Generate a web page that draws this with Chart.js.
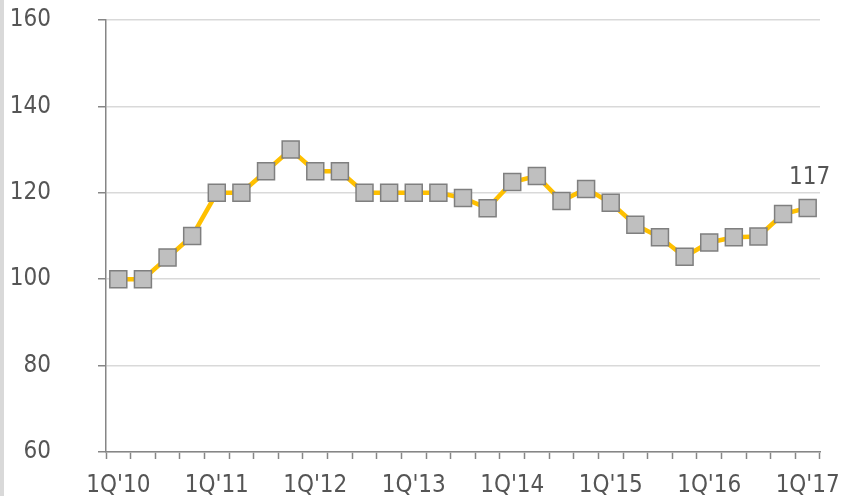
<!DOCTYPE html>
<html>
<head>
<meta charset="utf-8">
<script src="https://cdn.jsdelivr.net/npm/chart.js@4.4.1/dist/chart.umd.min.js"></script>
<style>
    html, body { margin: 0; padding: 0; background: #ffffff; }
    #wrap { position: relative; width: 842px; height: 496px; }
    #strip { position: absolute; left: 0; top: 0; width: 4px; height: 496px; background: #d9d9d9; }
</style>
</head>
<body>
<div id="wrap">
    <canvas id="chart" width="842" height="496"></canvas>
    <div id="strip"></div>
</div>
<script>
// Quarterly index, 1Q'10 = 100
const quarters = [
    "1Q'10", "2Q'10", "3Q'10", "4Q'10",
    "1Q'11", "2Q'11", "3Q'11", "4Q'11",
    "1Q'12", "2Q'12", "3Q'12", "4Q'12",
    "1Q'13", "2Q'13", "3Q'13", "4Q'13",
    "1Q'14", "2Q'14", "3Q'14", "4Q'14",
    "1Q'15", "2Q'15", "3Q'15", "4Q'15",
    "1Q'16", "2Q'16", "3Q'16", "4Q'16",
    "1Q'17"
];
const indexValues = [
    100, 100, 105, 110,
    120, 120, 125, 130,
    125, 125, 120, 120,
    120, 120, 118.8, 116.4,
    122.5, 123.9, 118.1, 120.9,
    117.7, 112.6, 109.7, 105.2,
    108.5, 109.7, 109.9, 115.1,
    116.5
];
const yTicks = [60, 80, 100, 120, 140, 160];

const FONT = "'DejaVu Sans Condensed', 'DejaVu Sans', sans-serif";
const TEXT = '#555555';
const AXIS = '#868686';

// label only on the last point
const lastLabel = {
    id: 'lastLabel',
    afterDatasetsDraw(chart) {
        const meta = chart.getDatasetMeta(0);
        const i = indexValues.length - 1;
        const pt = meta.data[i];
        const ctx = chart.ctx;
        ctx.save();
        ctx.font = '24px ' + FONT;
        ctx.fillStyle = TEXT;
        ctx.textAlign = 'center';
        ctx.textBaseline = 'alphabetic';
        ctx.fillText(Math.round(indexValues[i]).toString(), pt.x + 2, pt.y - 24);
        ctx.restore();
    }
};

new Chart(document.getElementById('chart'), {
    type: 'line',
    data: {
        labels: quarters,
        datasets: [{
            data: indexValues,
            borderColor: '#ffc000',
            borderWidth: 4.5,
            tension: 0,
            pointStyle: 'rect',
            pointRadius: 12,
            pointBackgroundColor: '#bfbfbf',
            pointBorderColor: '#7f7f7f',
            pointBorderWidth: 1.5
        }]
    },
    options: {
        responsive: false,
        animation: false,
        devicePixelRatio: 1,
        layout: { padding: { left: 0, top: 20, right: 22, bottom: 0 } },
        plugins: {
            legend: { display: false },
            tooltip: { enabled: false }
        },
        scales: {
            x: {
                offset: true,
                grid: {
                    offset: true,
                    drawOnChartArea: false,
                    tickLength: 7,
                    tickColor: AXIS,
                    tickWidth: 1.5
                },
                border: { color: AXIS, width: 1.5 },
                ticks: {
                    autoSkip: false,
                    maxRotation: 0,
                    minRotation: 0,
                    padding: 12,
                    color: TEXT,
                    font: { family: FONT, size: 24 },
                    callback: function(value, index) {
                        return index % 4 === 0 ? quarters[index] : '';
                    }
                },
                afterFit(scale) {
                    scale.height = 44;
                    scale.paddingLeft = 0;
                    scale.paddingRight = 0;
                }
            },
            y: {
                min: 60,
                max: 160,
                afterBuildTicks(scale) {
                    scale.ticks = yTicks.map(v => ({ value: v }));
                },
                grid: {
                    color: '#d9d9d9',
                    lineWidth: 1.5,
                    tickLength: 8,
                    tickColor: AXIS,
                    tickWidth: 1.5
                },
                border: { color: AXIS, width: 1.5 },
                ticks: {
                    padding: 47,
                    color: TEXT,
                    font: { family: FONT, size: 24 }
                },
                afterFit(scale) {
                    scale.width = 106;
                    scale.paddingTop = 0;
                    scale.paddingBottom = 0;
                }
            }
        }
    },
    plugins: [lastLabel]
});
</script>
</body>
</html>
